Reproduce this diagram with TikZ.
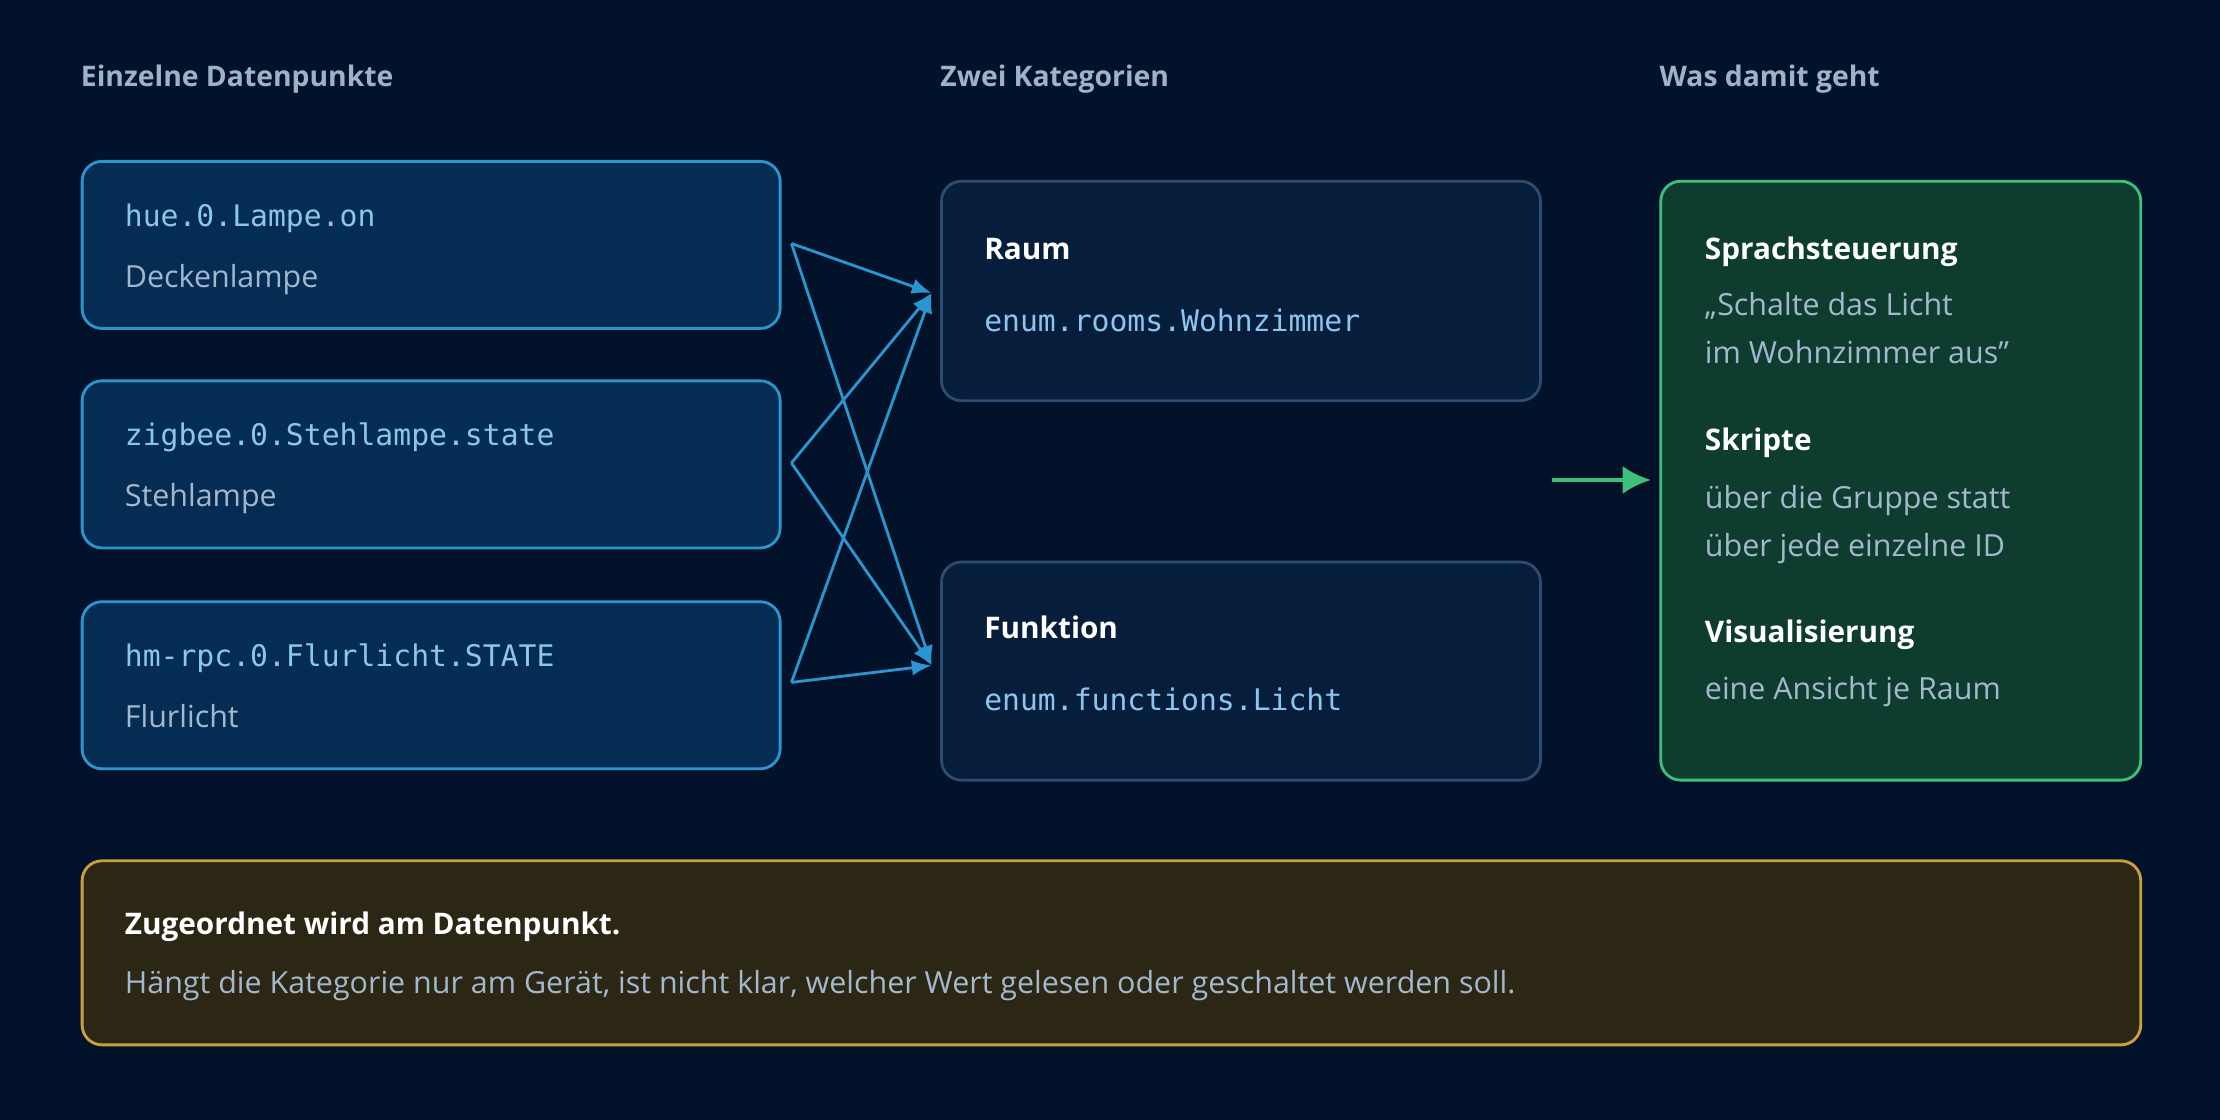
\documentclass[tikz,border=0pt]{standalone}
\usepackage{fontspec}
\setmainfont{Open Sans}
\setmonofont{DejaVu Sans Mono}
\usetikzlibrary{positioning}
\definecolor{bg}{HTML}{02122A}
\definecolor{head}{HTML}{9FB3C8}
\definecolor{dpfill}{HTML}{052C52}
\definecolor{dpline}{HTML}{2A95CF}
\definecolor{catfill}{HTML}{061E3B}
\definecolor{catline}{HTML}{2C4C70}
\definecolor{okfill}{HTML}{0E3D2F}
\definecolor{okline}{HTML}{3CC07A}
\definecolor{notefill}{HTML}{2C2715}
\definecolor{noteline}{HTML}{C9A03C}
\definecolor{code}{HTML}{8CC6F0}
\definecolor{sub}{HTML}{A3B8CC}
\tikzset{
  box/.style={draw, line width=2pt, rounded corners=14pt, anchor=north west, inner sep=0pt},
  heading/.style={anchor=base west, inner sep=0pt, text=head, font=\fontsize{20}{24}\selectfont\bfseries},
  title/.style={anchor=base west, inner sep=0pt, text=white, font=\fontsize{21}{26}\selectfont\bfseries},
  mono/.style={anchor=base west, inner sep=0pt, text=code, font=\fontsize{21}{24}\selectfont\ttfamily},
  plain/.style={anchor=base west, inner sep=0pt, text=sub, font=\fontsize{21.5}{24}\selectfont},
  link/.style={-{Latex[length=14pt,width=11pt]}, dpline, line width=2pt},
}
\usetikzlibrary{arrows.meta}
\begin{document}
\begin{tikzpicture}[x=1pt, y=-1pt]
  \fill[bg] (0,0) rectangle (1568,791);
  \useasboundingbox (0,0) rectangle (1568,791);

  % column headings
  \node[heading] (h1) at (57,61) {Einzelne Datenpunkte};
  \node[heading] (h2) at (664,61) {Zwei Kategorien};
  \node[heading] (h3) at (1172,61) {Was damit geht};

  % data points
  \foreach \name/\y/\id/\label in {dpa/113/hue.0.Lampe.on/Deckenlampe,
      dpb/268/zigbee.0.Stehlampe.state/Stehlampe,
      dpc/424/hm-rpc.0.Flurlicht.STATE/Flurlicht} {
    \node[box, fill=dpfill, draw=dpline, minimum width=493pt, minimum height=118pt] (\name) at (57,\y) {};
    \node[mono] at (88,\y+47) {\id};
    \node[plain] at (88,\y+90) {\label};
  }

  % categories
  \node[box, fill=catfill, draw=catline, minimum width=423pt, minimum height=155pt] (raum) at (664,127) {};
  \node[title] at (695,183) {Raum};
  \node[mono] at (695,234) {enum.rooms.Wohnzimmer};
  \node[box, fill=catfill, draw=catline, minimum width=423pt, minimum height=154pt] (funk) at (664,396) {};
  \node[title] at (695,451) {Funktion};
  \node[mono] at (695,502) {enum.functions.Licht};

  % uses
  \node[box, fill=okfill, draw=okline, minimum width=339pt, minimum height=423pt] (uses) at (1172,127) {};
  \node[title] at (1204,183) {Sprachsteuerung};
  \node[plain] at (1204,223) {„Schalte das Licht};
  \node[plain] at (1204,257) {im Wohnzimmer aus\char"22};
  \node[title] at (1204,318) {Skripte};
  \node[plain] at (1204,359) {über die Gruppe statt};
  \node[plain] at (1204,393) {über jede einzelne ID};
  \node[title] at (1204,454) {Visualisierung};
  \node[plain] at (1204,494) {eine Ansicht je Raum};

  % note
  \node[box, fill=notefill, draw=noteline, minimum width=1454pt, minimum height=130pt] (note) at (57,607) {};
  \node[title] at (88,660) {Zugeordnet wird am Datenpunkt.};
  \node[plain] at (88,702) {Hängt die Kategorie nur am Gerät, ist nicht klar, welcher Wert gelesen oder geschaltet werden soll.};

  % links
  \coordinate (sa) at (559,172);
  \coordinate (sb) at (559,327);
  \coordinate (sc) at (559,482);
  \coordinate (ta) at (658,207);
  \coordinate (tb) at (658,470);
  \foreach \s in {sa,sb,sc} {
    \draw[link] (\s) -- (ta);
    \draw[link] (\s) -- (tb);
  }
  \coordinate (ga) at (1096,339);
  \coordinate (gb) at (1166,339);
  \draw[-{Latex[length=20pt,width=20pt]}, okline, line width=3pt] (ga) -- (gb);
\end{tikzpicture}
\end{document}
